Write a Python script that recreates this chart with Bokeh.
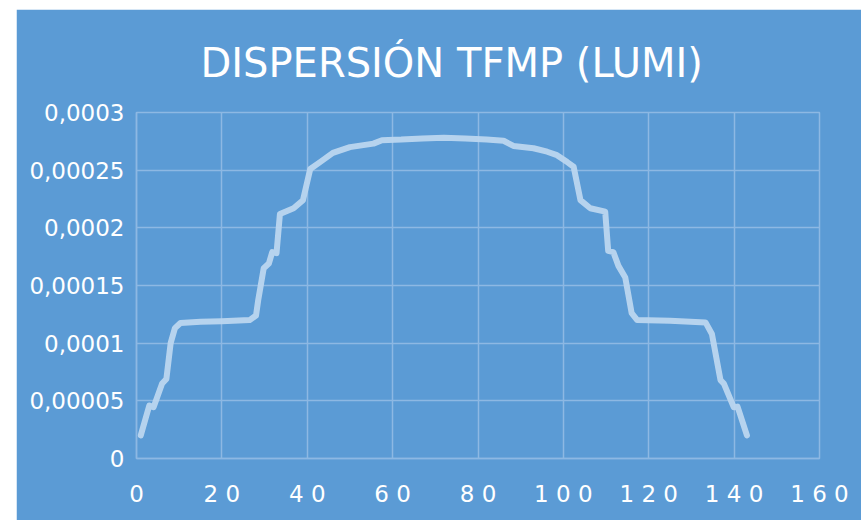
from bokeh.plotting import figure
from bokeh.models import FixedTicker, Range1d, Title, Spacer, GlobalInlineStyleSheet
from bokeh.layouts import row, column
from bokeh.embed import file_html
from bokeh.resources import INLINE

# ---- data ----
x_vals = [1, 3, 4, 6, 7, 8, 9, 10.3, 15, 20,
          26.5, 28, 28.5, 29.8, 31, 31.8, 32.8, 33.6, 36.8, 39,
          40.7, 43, 46, 50, 55.5, 57.5, 62, 67, 72, 77,
          82, 86, 88.3, 93, 96.2, 98.5, 100.9, 102.4, 104, 106.3,
          109.8, 110.5, 111.7, 112.9, 114.5, 116, 117.3, 125, 133.3, 134.8,
          136.8, 137.6, 139.9, 140.8, 143]
y_vals = [0.0000200, 0.0000460, 0.0000445, 0.0000650, 0.0000690, 0.0001000, 0.0001130, 0.0001175, 0.0001185, 0.0001190,
          0.0001200, 0.0001240, 0.0001370, 0.0001650, 0.0001690, 0.0001790, 0.0001780, 0.0002120, 0.0002170, 0.0002240,
          0.0002510, 0.0002570, 0.0002650, 0.0002700, 0.0002730, 0.0002760, 0.0002765, 0.0002775, 0.0002780, 0.0002775,
          0.0002765, 0.0002755, 0.0002710, 0.0002690, 0.0002660, 0.0002630, 0.0002570, 0.0002530, 0.0002240, 0.0002170,
          0.0002140, 0.0001800, 0.0001790, 0.0001670, 0.0001570, 0.0001260, 0.0001200, 0.0001195, 0.0001180, 0.0001080,
          0.0000680, 0.0000650, 0.0000445, 0.0000450, 0.0000200]

x_ticks = [0, 20, 40, 60, 80, 100, 120, 140, 160]
x_tick_labels = ["0", "2 0", "4 0", "6 0", "8 0", "1 0 0", "1 2 0", "1 4 0", "1 6 0"]
y_ticks = [0, 0.00005, 0.0001, 0.00015, 0.0002, 0.00025, 0.0003]
y_tick_labels = ["0", "0,00005", "0,0001", "0,00015", "0,0002", "0,00025", "0,0003"]
title_text = "DISPERSIÓN TFMP (LUMI)"

BG = "#5B9BD5"
GRID = "#8DB8E3"
LINE = "#BCD6EF"
FONT = "DejaVu Sans"

p = figure(width=845, height=511, output_backend="svg", toolbar_location=None,
           x_range=Range1d(0, 160), y_range=Range1d(0, 0.0003),
           min_border_left=120, min_border_right=42, min_border_top=103, min_border_bottom=62)
p.title = None
p.background_fill_color = BG
p.border_fill_color = BG
p.outline_line_color = GRID
p.outline_line_width = 1.5

t = Title(text=title_text, align="left", text_color="white", text_font=FONT,
          text_font_size="40px", text_font_style="normal", standoff=54, offset=64)
p.add_layout(t, "above")

for ax in (p.xaxis[0], p.yaxis[0]):
    ax.axis_line_color = GRID
    ax.axis_line_width = 1.5
    ax.major_tick_line_color = None
    ax.minor_tick_line_color = None
    ax.major_label_text_color = "white"
    ax.major_label_text_font = FONT
    ax.major_label_text_font_size = "23px"

p.xaxis[0].ticker = FixedTicker(ticks=x_ticks)
p.xaxis[0].major_label_overrides = dict(zip(x_ticks, x_tick_labels))
p.xaxis[0].major_label_standoff = 16
p.yaxis[0].ticker = FixedTicker(ticks=y_ticks)
p.yaxis[0].major_label_overrides = dict(zip(y_ticks, y_tick_labels))
p.yaxis[0].major_label_standoff = 6

p.xgrid.ticker = FixedTicker(ticks=x_ticks)
p.ygrid.ticker = FixedTicker(ticks=y_ticks)
for g in (p.xgrid[0], p.ygrid[0]):
    g.grid_line_color = GRID
    g.grid_line_width = 1.5

p.line(x_vals, y_vals, line_color=LINE, line_width=6, line_alpha=0.95,
       line_join="round", line_cap="round")

layout = row(Spacer(width=16), column(Spacer(height=9), p))
layout.stylesheets = [GlobalInlineStyleSheet(css="html, body { overflow: hidden; }")]

open("out.html", "w").write(file_html(layout, INLINE))
